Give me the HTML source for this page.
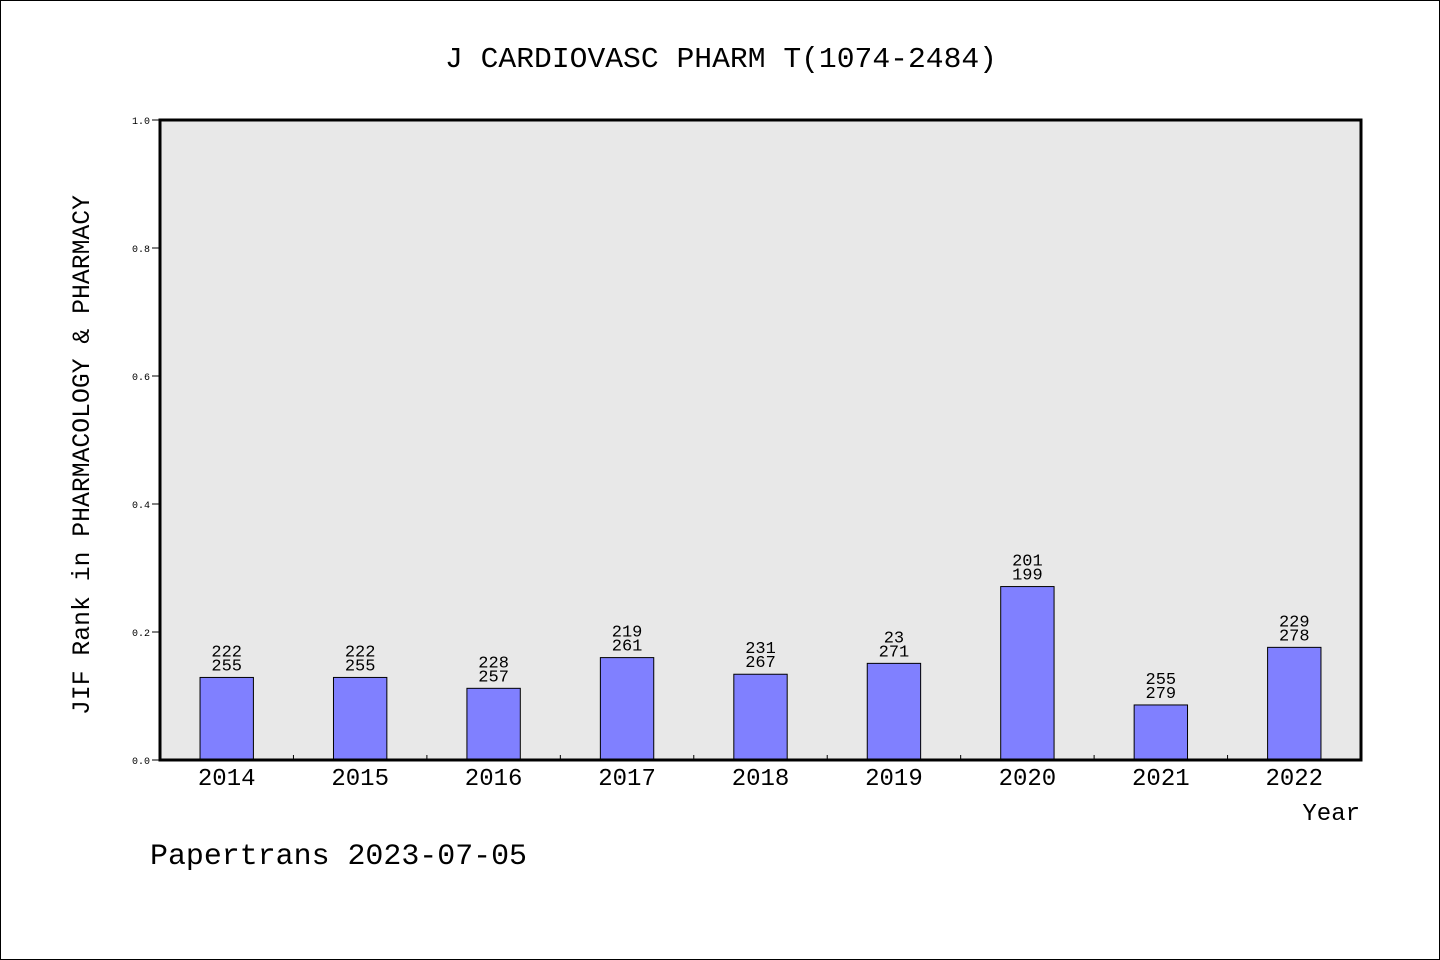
<!DOCTYPE html>
<html><head><meta charset="utf-8"><style>
html,body{margin:0;padding:0;background:#fff}
svg{display:block}
text{font-family:"Liberation Mono","DejaVu Sans Mono",monospace;fill:#000}
</style></head><body>
<svg id="chart" width="1440" height="960" xmlns="http://www.w3.org/2000/svg">
<rect x="0.5" y="0.5" width="1439" height="959" fill="#fff" stroke="#000"/>
<text x="721" y="67" font-size="29" text-anchor="middle" textLength="552" lengthAdjust="spacingAndGlyphs">J CARDIOVASC PHARM T(1074-2484)</text>
<rect x="160" y="120" width="1201" height="640" fill="#e8e8e8"/>
<g id="yaxis"></g>
<g id="xaxis"></g>
<g id="bars"></g>
<rect x="160" y="120" width="1201" height="640" fill="none" stroke="#000" stroke-width="3"/>
<text transform="translate(89,455) rotate(-90)" font-size="25" text-anchor="middle" textLength="520" lengthAdjust="spacingAndGlyphs">JIF Rank in PHARMACOLOGY &amp; PHARMACY</text>
<text x="1360" y="820" font-size="24" text-anchor="end">Year</text>
<text x="150" y="864" font-size="30" textLength="377" lengthAdjust="spacingAndGlyphs">Papertrans 2023-07-05</text>
</svg>
<script>
const categories=["2014","2015","2016","2017","2018","2019","2020","2021","2022"];
const values=[0.129,0.129,0.112,0.160,0.134,0.151,0.271,0.086,0.176];
const rankLabels=["222","222","228","219","231","23","201","255","229"];
const totalLabels=["255","255","257","261","267","271","199","279","278"];
const yTicks=[0,0.2,0.4,0.6,0.8,1.0];
const yTickLabels=["0.0","0.2","0.4","0.6","0.8","1.0"];
const NS="http://www.w3.org/2000/svg";
const X0=160,X1=1361,Y0=760,Y1=120;
const band=(X1-X0)/categories.length;
const xc=i=>X0+band*(i+0.5);
const y=v=>Y0-(Y0-Y1)*v;
function mk(t,a,p,txt){const e=document.createElementNS(NS,t);for(const k in a)e.setAttribute(k,a[k]);if(txt!==undefined)e.textContent=txt;p.appendChild(e);return e;}
const ya=document.getElementById('yaxis'),xa=document.getElementById('xaxis'),bg=document.getElementById('bars');
yTicks.forEach((v,i)=>{
 const l=mk('line',{x1:X0-8,x2:X0,y1:y(v),y2:y(v),stroke:'#000'},ya);
 
 const t=mk('text',{x:X0-10,y:y(v)+4,'font-size':10,'text-anchor':'end'},ya,yTickLabels[i]);
 
});
categories.forEach((c,i)=>{
 if(i>0){const l=mk('line',{x1:X0+band*i,x2:X0+band*i,y1:Y0,y2:Y0-5,stroke:'#000'},xa);
 }
 const t=mk('text',{x:xc(i),y:Y0+25,'font-size':24,'text-anchor':'middle'},xa,c);
 
 const bw=band*0.4;
 const r=mk('rect',{x:xc(i)-bw/2,y:y(values[i]),width:bw,height:Y0-y(values[i]),fill:'#8080ff',stroke:'#000'},bg);
 
 const t1=mk('text',{x:xc(i),y:y(values[i])-21,'font-size':17,'text-anchor':'middle'},bg,rankLabels[i]);
 
 const t2=mk('text',{x:xc(i),y:y(values[i])-7,'font-size':17,'text-anchor':'middle'},bg,totalLabels[i]);
 
});
</script>
</body></html>
